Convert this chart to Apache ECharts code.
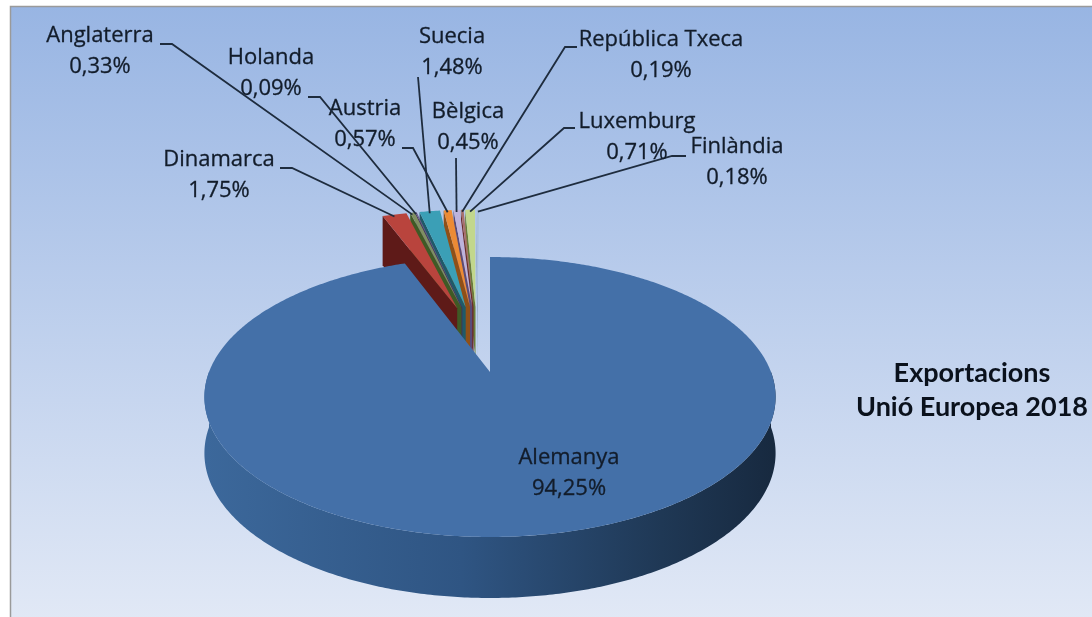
<!DOCTYPE html>
<html>
<head>
<meta charset="utf-8">
<style>html,body{margin:0;padding:0;background:#fff}#chart{width:1092px;height:617px}</style>
<script src="https://cdn.jsdelivr.net/npm/echarts@6/dist/echarts.min.js"></script>
</head>
<body>
<div id="chart"></div>
<script>
const countries = ['Alemanya', 'Dinamarca', 'Anglaterra', 'Holanda', 'Suecia', 'Austria', 'Bèlgica', 'República Txeca', 'Luxemburg', 'Finlàndia'];
const shares = [94.25, 1.75, 0.33, 0.09, 1.48, 0.57, 0.45, 0.19, 0.71, 0.18];

const topColors = ['#4470a8', '#b9443d', '#7f8f63', '#6b5a85', '#3b9fb6', '#ec8b35', '#bdb3dc', '#a8706c', '#c2d78c', '#a9c0dc'];
const wallColors = ['#2c4d75', '#5e1a18', '#3f5a25', '#40305c', '#1f5a68', '#8f5018', '#5a4c78', '#6b2c2c', '#6a7c3a', '#6a7f9c'];

// where each label goes and how its leader line bends: [label x, label y, elbow start x, elbow end x, elbow y]
const labelLayout = [
    [569, 473, null, null, null],
    [219, 175, 280, 292, 168],
    [100, 51, 160, 172, 44],
    [271, 73, 308, 320, 97],
    [452, 52, 418, 418, 77],
    [365, 124, 402, 413, 148],
    [468, 127, 456, 456, 158],
    [661, 55, 577, 565, 47],
    [637, 137, 575, 564, 128],
    [737, 162, 686, 672, 156]
];

// projection of the tilted disc, fitted on the big slice
const cx = 490, cy = 372, scaleX = 281, scaleY = 135.5, persp = 0.1786, depth = 55.3, explode = 0.265;

function project(u, v, down) {
    const s = 1 / (1 - persp * v);
    return [cx + scaleX * u * s, cy + scaleY * v * s + down * depth * Math.sqrt(s)];
}

const total = shares.reduce((a, b) => a + b, 0);
let running = 0;
const slices = shares.map(v => {
    const start = running / total * Math.PI * 2;
    running += v;
    const end = running / total * Math.PI * 2;
    return { start, end, mid: (start + end) / 2 };
});

function sliceCenter(i) {
    const m = slices[i].mid, m0 = slices[0].mid;
    return [explode * (Math.sin(m) - Math.sin(m0)), -explode * (Math.cos(m) - Math.cos(m0))];
}

function rimPoint(i, a, down) {
    const c = sliceCenter(i);
    return project(c[0] + Math.sin(a), c[1] - Math.cos(a), down);
}

function arcPoints(i, a0, a1, down) {
    const n = Math.max(2, Math.ceil(Math.abs(a1 - a0) / 0.01));
    const pts = [];
    for (let k = 0; k <= n; k++) pts.push(rimPoint(i, a0 + (a1 - a0) * k / n, down));
    return pts;
}

function renderSlice(params, api) {
    const i = api.value(0);
    const s = slices[i];
    const c = sliceCenter(i);
    const apexTop = project(c[0], c[1], 0);
    const apexBot = project(c[0], c[1], 1);
    const children = [];
    if (i === 0) {
        const a0 = Math.PI / 2, a1 = Math.PI * 1.5;
        children.push({
            type: 'polygon',
            shape: { points: arcPoints(0, a0, a1, 0).concat(arcPoints(0, a1, a0, 1)) },
            style: {
                fill: new echarts.graphic.LinearGradient(0, 0, 1, 0, [
                    { offset: 0, color: '#3c689b' },
                    { offset: 0.45, color: '#2f5583' },
                    { offset: 0.8, color: '#1f3855' },
                    { offset: 1, color: '#17293f' }
                ])
            }
        });
    } else {
        const rimTop = rimPoint(i, s.start, 0);
        const rimBot = rimPoint(i, s.start, 1);
        children.push({
            type: 'polygon',
            shape: { points: [apexTop, rimTop, rimBot, apexBot] },
            style: { fill: wallColors[i] }
        });
    }
    children.push({
        type: 'polygon',
        shape: { points: [apexTop].concat(arcPoints(i, s.start, s.end, 0)) },
        style: { fill: topColors[i] }
    });
    return { type: 'group', children };
}

function renderLabel(params, api) {
    const i = api.value(0);
    const l = labelLayout[i];
    const children = [];
    if (l[2] !== null) {
        const anchor = rimPoint(i, slices[i].mid, 0);
        children.push({
            type: 'polyline',
            shape: { points: [[l[2], l[4]], [l[3], l[4]], [anchor[0], anchor[1] + 2]] },
            style: { stroke: '#1e2c3e', lineWidth: 1.8, fill: null }
        });
    }
    children.push({
        type: 'text',
        style: {
            x: l[0],
            y: l[1],
            text: countries[i] + '\n' + shares[i].toFixed(2).replace('.', ',') + '%',
            align: 'center',
            verticalAlign: 'middle',
            fontFamily: '"Open Sans", sans-serif',
            fontSize: 22,
            lineHeight: 31,
            fill: '#121c2a',
            stroke: '#121c2a',
            lineWidth: 0.3
        }
    });
    return { type: 'group', children };
}

const chart = echarts.init(document.getElementById('chart'), null, { renderer: 'canvas' });
const paintOrder = [9, 8, 7, 6, 5, 4, 3, 2, 1, 0];

chart.setOption({
    animation: false,
    title: {
        text: 'Exportacions\nUnió Europea 2018',
        left: 967,
        top: 351,
        textAlign: 'center',
        textStyle: { fontFamily: 'Lato, sans-serif', fontWeight: 'bold', fontSize: 27, lineHeight: 34, color: '#0a111c' }
    },
    graphic: [{
        type: 'rect',
        z: -10,
        shape: { x: 10.5, y: 6.5, width: 1090, height: 620 },
        style: {
            stroke: '#9a9a9a',
            lineWidth: 1.5,
            fill: new echarts.graphic.LinearGradient(0, 0, 0, 1, [
                { offset: 0, color: '#98b5e3' },
                { offset: 1, color: '#e2e9f6' }
            ])
        }
    }],
    series: [
        { type: 'custom', coordinateSystem: 'none', silent: true, z: 2, renderItem: renderSlice, data: paintOrder.map(i => [i]) },
        { type: 'custom', coordinateSystem: 'none', silent: true, z: 3, renderItem: renderLabel, data: paintOrder.map(i => [i]) }
    ]
});
</script>
</body>
</html>
